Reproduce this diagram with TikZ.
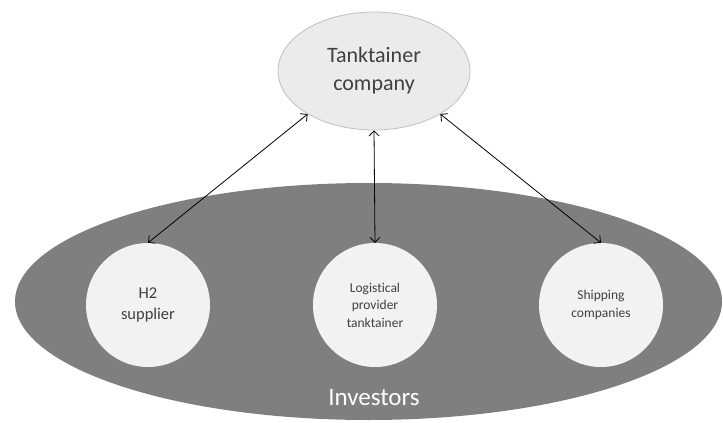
\documentclass[tikz,border=0pt]{standalone}
\usepackage{fontspec}
\setmainfont{Carlito}[Ligatures={NoCommon}]
\usetikzlibrary{shapes.geometric,arrows.meta}
\definecolor{pale}{HTML}{EBEBEB}
\definecolor{paleedge}{HTML}{BFBFBF}
\definecolor{pool}{HTML}{7F7F7F}
\definecolor{disc}{HTML}{F2F2F2}
\definecolor{ink}{HTML}{404040}
\tikzset{
  hub/.style={ellipse, draw=paleedge, line width=0.8pt, fill=pale, inner sep=0pt,
    minimum width=192pt, minimum height=118pt, text=ink, align=center,
    font=\fontsize{22}{28}\selectfont},
  group/.style={ellipse, fill=pool, inner sep=0pt,
    minimum width=707pt, minimum height=237pt},
  member/.style={circle, fill=disc, inner sep=0pt, minimum size=124pt,
    text=ink, align=center},
  link/.style={{Straight Barb[length=5pt,width=10pt]}-{Straight Barb[length=5pt,width=10pt]},
    line width=0.8pt, black},
}
\begin{document}
\begin{tikzpicture}[x=1pt,y=-1pt]
  \useasboundingbox (0,0) rectangle (723,423);
  % investors pool with the three members
  \node[group] (investors) at (368.5,301.5) {};
  \node[text=white, font=\fontsize{25}{28}\selectfont, anchor=base] (invlabel) at (374,405) {Investors};
  \node[member, font=\fontsize{16.5}{21.5}\selectfont] (h2) at (148,305) {H2\\supplier};
  \node[member, font=\fontsize{13.5}{17.5}\selectfont] (logi) at (375,305) {Logistical\\provider\\tanktainer};
  \node[member, font=\fontsize{13.5}{17.5}\selectfont] (ship) at (601,305) {Shipping\\companies};
  % central company
  \node[hub] (company) at (374,71) {Tanktainer\\company};
  % relations
  \draw[link] (company.213.5) -- (h2.north);
  \draw[link] (company.south) -- (logi.north);
  \draw[link] (company.327.5) -- (ship.north);
\end{tikzpicture}
\end{document}
